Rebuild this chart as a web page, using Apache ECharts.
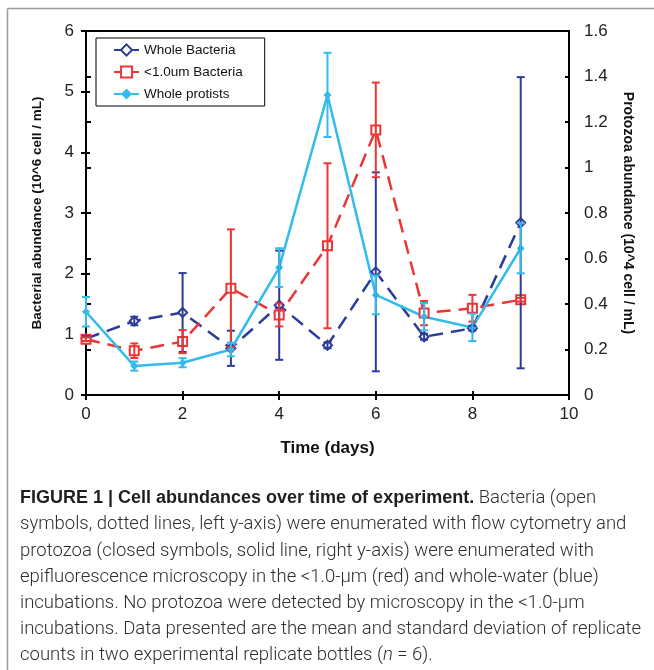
<!DOCTYPE html>
<html>
<head>
<meta charset="utf-8">
<script src="https://cdn.jsdelivr.net/npm/echarts@6/dist/echarts.min.js"></script>
<style>
  html, body { margin: 0; padding: 0; background: #fff; }
  #chart { width: 654px; height: 670px; }
</style>
</head>
<body>
<div id="chart"></div>
<script>
// Sampling days
const days = [0, 1, 2, 3, 4, 5, 6, 7, 8, 9];

// Bacteria (10^6 cell / mL), left axis
const wholeBacteria   = [0.93, 1.22, 1.36, 0.77, 1.48, 0.82, 2.03, 0.96, 1.10, 2.84];
const wholeBacteriaSD = [0.04, 0.07, 0.65, 0.29, 0.90, 0.05, 1.64, 0.05, 0.04, 2.40];
const smallBacteria   = [0.92, 0.73, 0.88, 1.76, 1.32, 2.46, 4.37, 1.35, 1.43, 1.57];
const smallBacteriaSD = [0.03, 0.12, 0.19, 0.97, 0.19, 1.36, 0.78, 0.20, 0.22, 0.03];

// Protists (10^4 cell / mL), right axis
const protists   = [0.366, 0.127, 0.142, 0.200, 0.560, 1.319, 0.440, 0.344, 0.297, 0.645];
const protistsSD = [0.065, 0.020, 0.020, 0.030, 0.085, 0.185, 0.085, 0.060, 0.060, 0.110];

const seriesNames = ['Whole Bacteria', '<1.0um Bacteria', 'Whole protists'];
const colors = ['#2d3c97', '#ec3535', '#33bbec'];

const captionLines = [
  '{b|FIGURE 1 | Cell abundances over time of experiment.} Bacteria (open',
  'symbols, dotted lines, left y-axis) were enumerated with flow cytometry and',
  'protozoa (closed symbols, solid line, right y-axis) were enumerated with',
  'epifluorescence microscopy in the <1.0-\u00b5m (red) and whole-water (blue)',
  'incubations. No protozoa were detected by microscopy in the <1.0-\u00b5m',
  'incubations. Data presented are the mean and standard deviation of replicate',
  'counts in two experimental replicate bottles ({i|n} = 6).'
];

const pairs = (vals) => days.map((d, i) => [d, vals[i]]);
const bars = (vals, sd) => days.map((d, i) => [d, vals[i] - sd[i], vals[i] + sd[i]]);

// Vertical error bar with caps
function errorBar(params, api) {
  const x = api.value(0);
  const lo = api.coord([x, api.value(1)]);
  const hi = api.coord([x, api.value(2)]);
  const w = 4;
  const style = { stroke: api.visual('color'), lineWidth: 2 };
  return {
    type: 'group',
    children: [
      { type: 'line', shape: { x1: lo[0], y1: lo[1], x2: hi[0], y2: hi[1] }, style },
      { type: 'line', shape: { x1: lo[0] - w, y1: lo[1], x2: lo[0] + w, y2: lo[1] }, style },
      { type: 'line', shape: { x1: hi[0] - w, y1: hi[1], x2: hi[0] + w, y2: hi[1] }, style }
    ]
  };
}

const tickFont = { fontFamily: 'Liberation Sans', fontSize: 17, color: '#222' };
const axisLine = { show: true, lineStyle: { color: '#000', width: 2 } };

const chart = echarts.init(document.getElementById('chart'), null, { renderer: 'canvas' });

const captionGraphics = captionLines.map((line, i) => ({
  type: 'text',
  left: 20,
  top: 489 + i * 26.2,
  style: {
    text: line,
    fontFamily: 'Roboto',
    fontSize: 18.5,
    fontWeight: 300,
    fill: '#2e2e2e',
    rich: {
      b: { fontFamily: 'Liberation Sans', fontSize: 18, fontWeight: 'bold', fill: '#1e1e1e' },
      i: { fontFamily: 'Roboto', fontSize: 18.5, fontWeight: 300, fontStyle: 'italic', fill: '#2e2e2e' }
    }
  }
}));

chart.setOption({
  animation: false,
  backgroundColor: '#fff',
  grid: {
    left: 86, right: 85, top: 31, bottom: 275,
    show: true, borderColor: '#000', borderWidth: 2, backgroundColor: 'transparent'
  },
  legend: {
    data: seriesNames,
    orient: 'vertical',
    left: 96, top: 38,
    padding: [5, 22, 5, 17],
    itemGap: 8,
    itemWidth: 25, itemHeight: 14,
    borderColor: '#000', borderWidth: 1,
    textStyle: { fontFamily: 'Liberation Sans', fontSize: 13.5, color: '#111' },
    lineStyle: { type: 'solid' }
  },
  xAxis: [
    {
      type: 'value', min: 0, max: 10, interval: 2, position: 'bottom',
      name: 'Time (days)', nameLocation: 'middle', nameGap: 45,
      nameTextStyle: { fontFamily: 'Liberation Sans', fontSize: 17, fontWeight: 'bold', color: '#111' },
      axisLine,
      axisTick: { show: true, inside: false, length: 5, lineStyle: { color: '#000', width: 2 } },
      axisLabel: Object.assign({ margin: 11 }, tickFont),
      splitLine: { show: false }
    },
    {
      type: 'value', min: 0, max: 10, interval: 2, position: 'bottom',
      axisLine: { show: false },
      axisTick: { show: true, inside: true, length: 4, lineStyle: { color: '#000', width: 2 } },
      axisLabel: { show: false },
      splitLine: { show: false }
    }
  ],
  yAxis: [
    {
      type: 'value', min: 0, max: 6, interval: 1, position: 'left',
      name: 'Bacterial abundance (10^6 cell / mL)', nameLocation: 'middle', nameGap: 42,
      nameTextStyle: { fontFamily: 'Liberation Sans', fontSize: 13.5, fontWeight: 'bold', color: '#111' },
      axisLine,
      axisTick: { show: true, inside: false, length: 5, lineStyle: { color: '#000', width: 2 } },
      axisLabel: Object.assign({ margin: 12 }, tickFont),
      splitLine: { show: false }
    },
    {
      type: 'value', min: 0, max: 1.6, interval: 0.2, position: 'right',
      name: 'Protozoa abundance (10^4 cell / mL)', nameLocation: 'middle', nameGap: 52, nameRotate: -90,
      nameTextStyle: { fontFamily: 'Liberation Sans', fontSize: 14, fontWeight: 'bold', color: '#111' },
      axisLine,
      axisTick: { show: true, inside: false, length: 5, lineStyle: { color: '#000', width: 2 } },
      axisLabel: Object.assign({ margin: 15 }, tickFont),
      splitLine: { show: false }
    },
    {
      type: 'value', min: 0, max: 6, interval: 1, position: 'left',
      axisLine: { show: false },
      axisTick: { show: true, inside: true, length: 4, lineStyle: { color: '#000', width: 2 } },
      axisLabel: { show: false }, splitLine: { show: false }
    },
    {
      type: 'value', min: 0, max: 1.6, interval: 0.2, position: 'right',
      axisLine: { show: false },
      axisTick: { show: true, inside: true, length: 4, lineStyle: { color: '#000', width: 2 } },
      axisLabel: { show: false }, splitLine: { show: false }
    }
  ],
  series: [
    {
      name: seriesNames[0], type: 'line', yAxisIndex: 0, data: pairs(wholeBacteria),
      symbol: 'emptyDiamond', symbolSize: 9, z: 3,
      lineStyle: { color: colors[0], width: 2.5, type: [14, 8] },
      itemStyle: { color: colors[0], borderWidth: 1.5 }
    },
    {
      name: seriesNames[1], type: 'line', yAxisIndex: 0, data: pairs(smallBacteria),
      symbol: 'emptyRect', symbolSize: 9, z: 3,
      lineStyle: { color: colors[1], width: 2.5, type: [14, 8] },
      itemStyle: { color: colors[1], borderWidth: 1.5 }
    },
    {
      name: seriesNames[2], type: 'line', yAxisIndex: 1, data: pairs(protists),
      symbol: 'diamond', symbolSize: 8, z: 3,
      lineStyle: { color: colors[2], width: 2.5 },
      itemStyle: { color: colors[2] }
    },
    {
      name: 'wb-sd', type: 'custom', yAxisIndex: 0, data: bars(wholeBacteria, wholeBacteriaSD),
      renderItem: errorBar, itemStyle: { color: colors[0] }, encode: { x: 0, y: [1, 2] }, z: 4
    },
    {
      name: 'sb-sd', type: 'custom', yAxisIndex: 0, data: bars(smallBacteria, smallBacteriaSD),
      renderItem: errorBar, itemStyle: { color: colors[1] }, encode: { x: 0, y: [1, 2] }, z: 4
    },
    {
      name: 'wp-sd', type: 'custom', yAxisIndex: 1, data: bars(protists, protistsSD),
      renderItem: errorBar, itemStyle: { color: colors[2] }, encode: { x: 0, y: [1, 2] }, z: 4
    }
  ],
  graphic: [
    { type: 'line', shape: { x1: 7.5, y1: 8.5, x2: 654, y2: 8.5 }, style: { stroke: '#9a9a9a', lineWidth: 1.5 } },
    { type: 'line', shape: { x1: 7.5, y1: 8.5, x2: 7.5, y2: 670 }, style: { stroke: '#9a9a9a', lineWidth: 1.5 } }
  ].concat(captionGraphics)
});
</script>
</body>
</html>
